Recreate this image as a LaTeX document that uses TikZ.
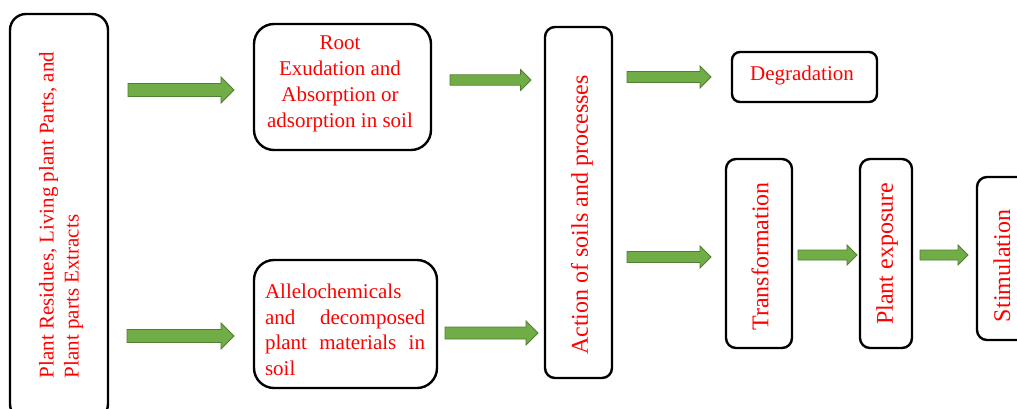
\documentclass[tikz,border=0pt]{standalone}
\usepackage{fontspec}
\setmainfont{Liberation Serif}
\usetikzlibrary{calc}
\definecolor{arrfill}{HTML}{70AD47}
\definecolor{arrdraw}{HTML}{507E32}
\definecolor{txtred}{HTML}{FF0000}
\tikzset{
  box/.style={draw=black, line width=2.4pt, fill=white, inner sep=0pt},
  txt/.style={text=txtred, inner sep=0pt, font=\rmfamily\fontsize{21}{26}\selectfont},
  rtxt/.style={text=txtred, inner sep=0pt, rotate=90, font=\rmfamily\fontsize{24}{28}\selectfont},
  garrowst/.style={fill=arrfill, draw=arrdraw, line width=0.8pt, line join=miter}
}
\newcommand\garrow[3]{%
  \draw[garrowst] ($(#1)+(0,#3)$) -- ($(#2)+(-2*#3,#3)$) -- ($(#2)+(-2*#3,2*#3)$) -- (#2)
    -- ($(#2)+(-2*#3,-2*#3)$) -- ($(#2)+(-2*#3,-#3)$) -- ($(#1)+(0,-#3)$) -- cycle;}
\begin{document}
\begin{tikzpicture}[x=1pt,y=-1pt]
\useasboundingbox (0,0) rectangle (1017,408);
% boxes
\node[box, rounded corners=16pt, minimum width=98pt, minimum height=406pt] (src) at (59,217) {};
\node[box, rounded corners=20pt, minimum width=177pt, minimum height=126pt] (root) at (342.5,87) {};
\node[box, rounded corners=20pt, minimum width=183pt, minimum height=128pt] (alle) at (345.5,324) {};
\node[box, rounded corners=10pt, minimum width=67pt, minimum height=351pt] (act) at (578.5,202.5) {};
\node[box, rounded corners=8pt, minimum width=145pt, minimum height=50pt] (deg) at (804.5,77) {};
\node[box, rounded corners=10pt, minimum width=66pt, minimum height=189pt] (tra) at (759,253.5) {};
\node[box, rounded corners=10pt, minimum width=52pt, minimum height=189pt] (pex) at (886,253.5) {};
\node[box, rounded corners=10pt, minimum width=63pt, minimum height=163pt] (sti) at (1008.5,258.5) {};
% texts
\node[txt, rotate=90, align=left, font=\rmfamily\fontsize{21}{25}\selectfont] (srct) at (61,215)
  {Plant Residues, Living plant Parts, and\\Plant parts Extracts};
\node[txt, align=center] (roott) at (340,84) {Root\\Exudation and\\Absorption or\\adsorption in soil};
\node[txt, align=justify, text width=160pt, font=\rmfamily\fontsize{21}{25.5}\selectfont] (allet) at (345,330)
  {\hyphenpenalty=10000\relax Allelochemicals and decomposed plant materials in soil};
\node[rtxt] (actt) at (582,215) {Action of soils and processes};
\node[txt] (degt) at (802,75) {Degradation};
\node[rtxt] (trat) at (760,256.5) {Transformation};
\node[rtxt] (pext) at (887,254) {Plant exposure};
\node[rtxt] (stit) at (1002,266) {Stimulation};
% arrow end points
\coordinate (a1s) at (128,90);  \coordinate (a1e) at (234,90);
\coordinate (a2s) at (127,336); \coordinate (a2e) at (234,336);
\coordinate (a3s) at (450,80);  \coordinate (a3e) at (531,80);
\coordinate (a4s) at (445,333); \coordinate (a4e) at (538,333);
\coordinate (a5s) at (627,77);  \coordinate (a5e) at (711,77);
\coordinate (a6s) at (627,257); \coordinate (a6e) at (711,257);
\coordinate (a7s) at (798,255); \coordinate (a7e) at (857,255);
\coordinate (a8s) at (920,255); \coordinate (a8e) at (968,255);
\garrow{a1s}{a1e}{6.5}
\garrow{a2s}{a2e}{6.5}
\garrow{a3s}{a3e}{5.2}
\garrow{a4s}{a4e}{6}
\garrow{a5s}{a5e}{5.5}
\garrow{a6s}{a6e}{5.5}
\garrow{a7s}{a7e}{5}
\garrow{a8s}{a8e}{5}
\end{tikzpicture}
\end{document}
